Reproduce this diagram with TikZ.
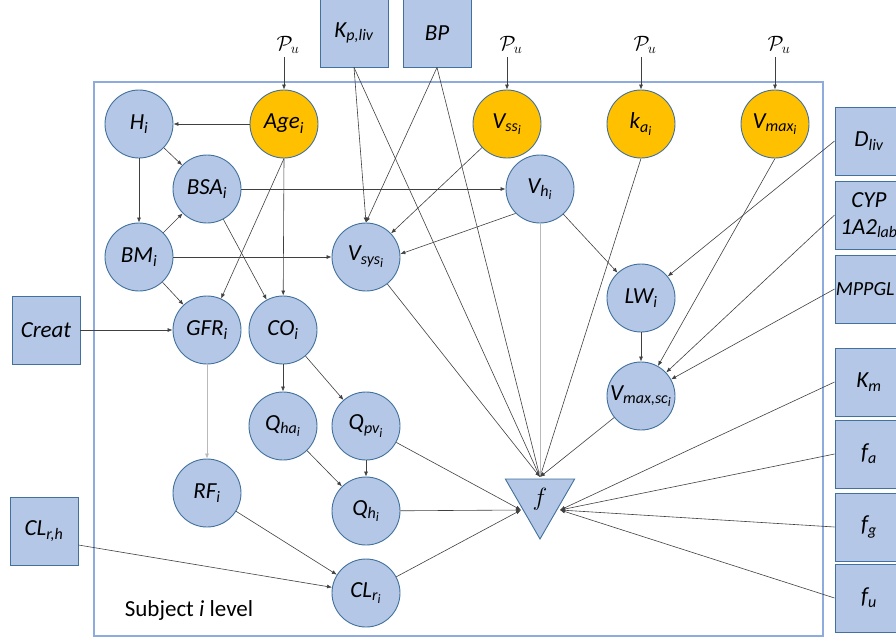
\documentclass[tikz,border=0pt]{standalone}
\usepackage{amsmath}
\usepackage{fontspec}
\setmainfont{Carlito}
\DeclareMathSizes{23}{23}{16}{13}
\DeclareMathSizes{22}{22}{15}{12}
\usetikzlibrary{arrows.meta,shapes.geometric,calc}
\definecolor{azulclaro}{HTML}{B4C7E7}
\definecolor{azulborde}{HTML}{41719C}
\definecolor{naranja}{HTML}{FFC000}
\definecolor{placa}{HTML}{8FAADC}
\definecolor{linea}{HTML}{404040}
\newcommand{\vi}[1]{\textit{#1}}
\tikzset{
  var/.style={circle,draw=azulborde,fill=azulclaro,line width=0.9pt,minimum size=68pt,inner sep=0pt,font=\fontsize{23}{26}\selectfont},
  pop/.style={var,fill=naranja},
  dato/.style={rectangle,draw=azulborde,fill=azulclaro,line width=0.9pt,minimum width=68pt,minimum height=68pt,inner sep=1pt,font=\fontsize{23}{27}\selectfont},
  arr/.style={-{Latex[length=5pt,width=4pt]},draw=linea,line width=0.6pt},
  arrclaro/.style={arr,draw=gray!55},
}
\begin{document}
\begin{tikzpicture}[x=1pt,y=-1pt]
\useasboundingbox (0,0) rectangle (896,641);
    %Placa del sujeto
    \draw[placa,line width=1.2pt] (94,82) rectangle (823,636);
    \node[font=\fontsize{23}{26}\selectfont] (nivel) at (189,610) {Subject \textit{i} level};

    %Nodos del sujeto
    \node[var] (h) at (139,124) {$\vi{H}_{\vi{i}}$};
    \node[pop] (age) at (284,124) {$\vi{Age}_{\vi{i}}$};
    \node[var] (bsa) at (207,189) {$\vi{BSA}_{\vi{i}}$};
    \node[var] (bm) at (139,257) {$\vi{BM}_{\vi{i}}$};
    \node[var] (gfr) at (207,330) {$\vi{GFR}_{\vi{i}}$};
    \node[var] (co) at (283,330) {$\vi{CO}_{\vi{i}}$};
    \node[var] (vsys) at (366,257) {$\vi{V}_{\vi{sys}_{\vi{i}}}$};
    \node[pop] (vss) at (507,124) {$\vi{V}_{\vi{ss}_{\vi{i}}}$};
    \node[var] (vh) at (540,189) {$\vi{V}_{\vi{h}_{\vi{i}}}$};
    \node[pop] (ka) at (641,124) {$\vi{k}_{\vi{a}_{\vi{i}}}$};
    \node[pop] (vmax) at (775,124) {$\vi{V}_{\vi{max}_{\vi{i}}}$};
    \node[var] (lw) at (641,298) {$\vi{LW}_{\vi{i}}$};
    \node[var] (vmaxsc) at (641,396) {$\vi{V}_{\vi{max,sc}_{\vi{i}}}$};
    \node[var] (qha) at (283,426) {$\vi{Q}_{\vi{ha}_{\vi{i}}}$};
    \node[var] (qpv) at (366,426) {$\vi{Q}_{\vi{pv}_{\vi{i}}}$};
    \node[var] (rf) at (207,493) {$\vi{RF}_{\vi{i}}$};
    \node[var] (qh) at (366,511) {$\vi{Q}_{\vi{h}_{\vi{i}}}$};
    \node[var] (clr) at (366,593) {$\vi{CL}_{\vi{r}_{\vi{i}}}$};
    \node[regular polygon,regular polygon sides=3,shape border rotate=180,draw=azulborde,fill=azulclaro,
          line width=0.9pt,minimum size=80pt,inner sep=0pt,font=\fontsize{24}{26}\selectfont] (f) at (540,499) {$f$};
    \coordinate (fT) at ($(f.center)+(0,-22)$);
    \coordinate (fL) at ($(f.center)+(-19,11)$);
    \coordinate (fR) at ($(f.center)+(20,11)$);

    %Datos fijos
    \node[dato] (kpliv) at (354,33) {$\vi{K}_{\vi{p,liv}}$};
    \node[dato] (bp) at (437,33) {\vi{BP}};
    \node[dato] (creat) at (46,330) {\vi{Creat}};
    \node[dato] (clrh) at (44,531) {$\vi{CL}_{\vi{r,h}}$};
    \foreach \n/\y/\t in {dliv/141/{$\vi{D}_{\vi{liv}}$},cyp/215/{\vi{CYP}\\$\vi{1A2}_{\vi{lab}}$},
        mppgl/289/{},km/382/{$\vi{K}_{\vi{m}}$},fa/454/{$\vi{f}_{\vi{a}}$},
        fg/527/{$\vi{f}_{\vi{g}}$},fu/598/{$\vi{f}_{\vi{u}}$}}{
        \node[dato,align=center] (\n) at (869,\y) {\t};
    }
    \node[anchor=west,inner sep=1pt,font=\fontsize{20}{24}\selectfont] (mppgltxt) at (mppgl.west) {\vi{MPPGL}};

    %Poblacion
    \foreach \n in {age,vss,ka,vmax}{
        \node[font=\fontsize{22}{24}\selectfont] (pu\n) at ($(\n)+(4,-79)$) {$\mathcal{P}_u$};
        \draw[arr] (pu\n.south -| \n) -- (\n);
    }

    %Covariables
    \draw[arr] (age) -- (h);
    \draw[arr] (age.south) -- (gfr);
    \draw[arr] (age.south) -- (co);
    \draw[arr] (h) -- (bsa);
    \draw[arr] (h) -- (bm);
    \draw[arr] (bm) -- (bsa);
    \draw[arr] (bm) -- (gfr);
    \draw[arr] (bm) -- (vsys);
    \draw[arr] (bsa) -- (vh);
    \draw[arr] (bsa) -- (co);
    \draw[arr] (creat) -- (gfr);
    \draw[arrclaro] (gfr) -- (rf);
    \draw[arr] (co) -- (qha);
    \draw[arr] (co) -- (qpv);
    \draw[arr] (qha) -- (qh);
    \draw[arr] (qpv) -- (qh);
    \draw[arr] (rf) -- (clr);
    \draw[arr] ([yshift=-14pt]clrh.east) -- (clr);

    %Volumenes e higado
    \draw[arr] (kpliv.south) -- (vsys.north);
    \draw[arr] (bp.south) -- (vsys.north);
    \draw[arr] (vss) -- (vsys);
    \draw[arr] (vh.225) -- (vsys.5);
    \draw[arr] (vh) -- (lw);
    \draw[arr] (dliv.west) -- (lw);
    \draw[arr] (lw) -- (vmaxsc);
    \draw[arr] (vmax.south) -- (vmaxsc);
    \draw[arr] (cyp.west) -- (vmaxsc);
    \draw[arr] (mppgl.west) -- (vmaxsc);

    %Hacia f
    \draw[arr] (kpliv.south) -- (fT);
    \draw[arr] (bp.south) -- (fT);
    \draw[arr] (ka.south) -- (fT);
    \draw[arrclaro] (vh) -- (fT);
    \foreach \n in {vsys,vmaxsc} \draw[arr] (\n) -- (fT);
    \foreach \n in {qpv,qh,clr} \draw[arr] (\n) -- (fL);
    \foreach \n in {km,fa,fg,fu} \draw[arr] (\n.west) -- (fR);
\end{tikzpicture}
\end{document}
